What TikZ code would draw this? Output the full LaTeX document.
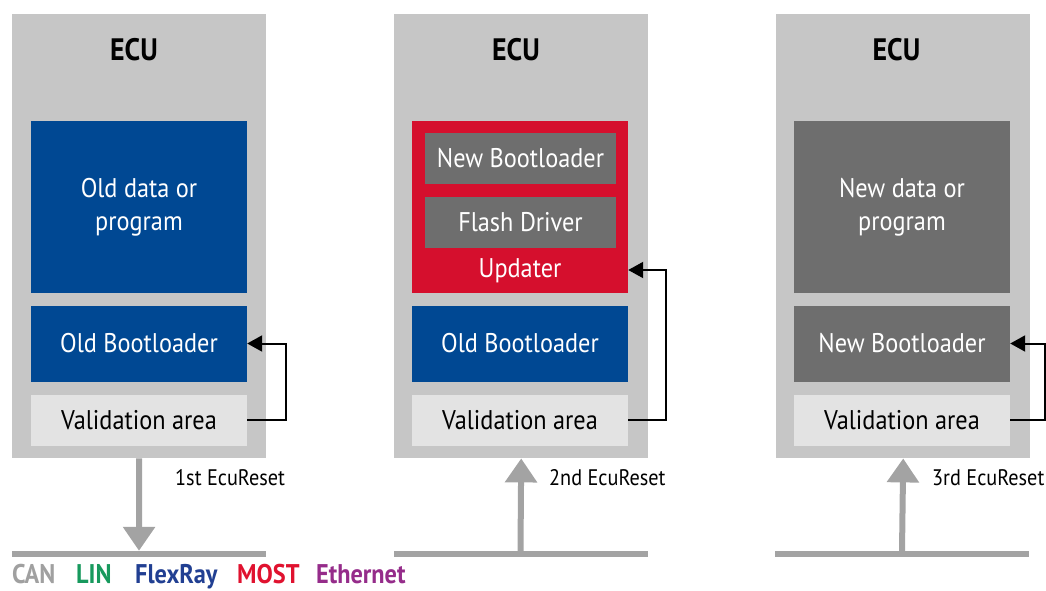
\documentclass[tikz,border=0pt]{standalone}
\usepackage{fontspec}
\setmainfont{PT Sans}[FakeStretch=0.9]
\usetikzlibrary{arrows.meta}
\definecolor{ecugray}{HTML}{C6C6C6}
\definecolor{memblue}{HTML}{004893}
\definecolor{memred}{HTML}{D50F2D}
\definecolor{memdark}{HTML}{6E6E6E}
\definecolor{memlight}{HTML}{E3E3E3}
\definecolor{busgray}{HTML}{A3A3A3}
\definecolor{cangray}{HTML}{A0A0A0}
\definecolor{lingreen}{HTML}{17995D}
\definecolor{frblue}{HTML}{213F92}
\definecolor{mostred}{HTML}{E0122F}
\definecolor{ethpurple}{HTML}{952C8A}
\tikzset{
  ecu/.style={fill=ecugray, minimum width=254, minimum height=444, inner sep=0, anchor=north west},
  ecutitle/.style={font=\fontsize{31}{34}\selectfont\bfseries, inner sep=0},
  mem/.style={minimum width=216, inner sep=0, text=white, align=center,
    font=\fontsize{27}{33}\selectfont},
  bigmem/.style={mem, minimum height=172},
  bootmem/.style={mem, minimum height=76},
  valmem/.style={mem, minimum height=51, fill=memlight, text=black},
  innermem/.style={minimum width=191, minimum height=51, inner sep=0, fill=memdark,
    text=white, font=\fontsize{27}{33}\selectfont},
  bus/.style={fill=busgray, minimum width=254, minimum height=6, inner sep=0},
  reset/.style={draw=busgray, line width=6pt, -{Triangle[length=24pt,width=31pt]}},
  fb/.style={draw=black, line width=2pt, -{Triangle[length=15pt,width=16pt]}},
  resetlbl/.style={font=\fontsize{22.5}{26}\selectfont, anchor=west, inner sep=0},
  legend/.style={font=\fontsize{27}{32}\selectfont\bfseries, anchor=base west, inner sep=0}
}
\begin{document}
\begin{tikzpicture}[x=1pt,y=-1pt]
\useasboundingbox (0,0) rectangle (1046,590);
% ECU 1: before the update
\node[ecu] (ecuA) at (12,14) {};
\node[ecutitle] (titleA) at (134,50) {ECU};
\node[bigmem, fill=memblue] (dataA) at (139,207) {Old data or\\program};
\node[bootmem, fill=memblue] (bootA) at (139,343.5) {Old Bootloader};
\node[valmem] (valA) at (139,420) {Validation area};
% ECU 2: updater loaded
\node[ecu] (ecuB) at (394,14) {};
\node[ecutitle] (titleB) at (516,50) {ECU};
\node[bigmem, fill=memred] (updB) at (520,207) {};
\node[innermem] (nbootB) at (520.5,158.5) {New Bootloader};
\node[innermem] (flashB) at (520.5,222.5) {Flash Driver};
\node[text=white, inner sep=0, font=\fontsize{27}{33}\selectfont] (updlbl) at (520,271) {Updater};
\node[bootmem, fill=memblue] (bootB) at (520,343.5) {Old Bootloader};
\node[valmem] (valB) at (520,420) {Validation area};
% ECU 3: after the update
\node[ecu] (ecuC) at (776,14) {};
\node[ecutitle] (titleC) at (896.5,50) {ECU};
\node[bigmem, fill=memdark] (dataC) at (902,207) {New data or\\program};
\node[bootmem, fill=memdark] (bootC) at (902,343.5) {New Bootloader};
\node[valmem] (valC) at (902,420) {Validation area};
% validation jumps
\draw[fb] (valA.east) -- ++(39,0) |- (bootA.east);
\draw[fb] (valB.east) -- ++(38,0) |- (updB.east |- 0,270);
\draw[fb] (valC.east) -- ++(35,0) |- (bootC.east);
% buses and resets
\node[bus] (busA) at (139,554) {};
\node[bus] (busB) at (520.5,554) {};
\node[bus] (busC) at (902,554) {};
\draw[reset] (ecuA.south) -- (busA.north);
\draw[reset] (busB.north) -- (ecuB.south);
\draw[reset] (busC.north) -- (ecuC.south);
\node[resetlbl] (rA) at (175,478) {1st EcuReset};
\node[resetlbl] (rB) at (549,478) {2nd EcuReset};
\node[resetlbl] (rC) at (932,478) {3rd EcuReset};
% bus legend
\node[legend, text=cangray] (can) at (12,583) {CAN};
\node[legend, text=lingreen] (lin) at (76,583) {LIN};
\node[legend, text=frblue] (fr) at (135,583) {FlexRay};
\node[legend, text=mostred] (most) at (237,583) {MOST};
\node[legend, text=ethpurple] (eth) at (316,583) {Ethernet};
\end{tikzpicture}
\end{document}
